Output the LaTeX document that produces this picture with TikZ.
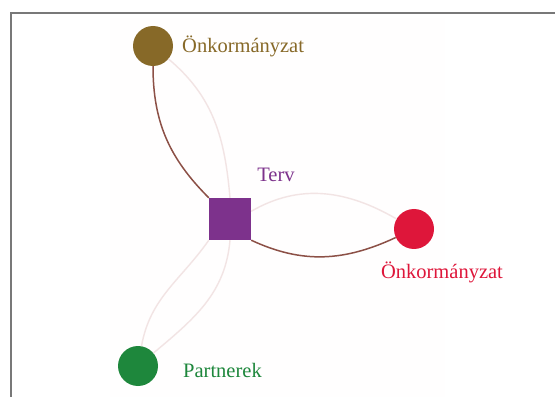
\documentclass[tikz,border=0pt]{standalone}
\usepackage{fontspec}
\setmainfont{Liberation Serif}
\definecolor{onkbrown}{RGB}{135,105,40}
\definecolor{onkred}{RGB}{222,22,58}
\definecolor{tervpurple}{RGB}{125,50,140}
\definecolor{partgreen}{RGB}{30,135,60}
\definecolor{tiecolor}{RGB}{140,80,70}
\definecolor{faintcolor}{RGB}{242,228,228}
\definecolor{framegray}{RGB}{120,120,120}
\begin{document}
\begin{tikzpicture}[x=1pt,y=1pt]
        \tikzset{actor/.style = {shape=circle,minimum size=40pt,inner sep=0pt}}
        \tikzset{plan/.style = {shape=rectangle,fill=tervpurple,minimum size=42pt,inner sep=0pt}}
        \tikzset{lbl/.style = {font=\fontsize{20.5}{22}\selectfont,inner sep=0pt}}
        \tikzset{tie/.style = {draw=tiecolor,line width=1.5pt}}
        \tikzset{faint/.style = {draw=faintcolor,line width=1.4pt}}
        \useasboundingbox (0,0) rectangle (555,397);
        % frame
        \fill[white!98!pink] (110,0) rectangle (445,379);
        \draw[framegray,line width=1.5pt] (555,384) -- (11,384) -- (11,0);
        % the plan in the middle
        \node[plan] (terv) at (230,178) {};
        \node[lbl,text=tervpurple] (tervlbl) at (276,222) {Terv};
        % actors round it
        \node[actor,fill=onkbrown] (onk1) at (153,351) {};
        \node[actor,fill=onkred] (onk2) at (414,168) {};
        \node[actor,fill=partgreen] (partner) at (138,31) {};
        \node[lbl,text=onkbrown,anchor=west] (onk1lbl) at (182,351) {Önkormányzat};
        \node[lbl,text=onkred] (onk2lbl) at (442,125) {Önkormányzat};
        \node[lbl,text=partgreen,anchor=west] (partnerlbl) at (183,27) {Partnerek};
        % faint ties
        \draw[faint] (onk1) to[out=-40,in=95] (terv.north);
        \draw[faint] (terv.20) to[out=30,in=150] (onk2);
        \draw[faint] (terv.225) to[out=235,in=80] (partner);
        \draw[faint] (terv.south) to[out=-95,in=40] (partner);
        % strong ties
        \draw[tie] (onk1) to[out=-90,in=135] (terv.north west);
        \draw[tie] (terv.south east) to[out=-25,in=205] (onk2);
\end{tikzpicture}
\end{document}
